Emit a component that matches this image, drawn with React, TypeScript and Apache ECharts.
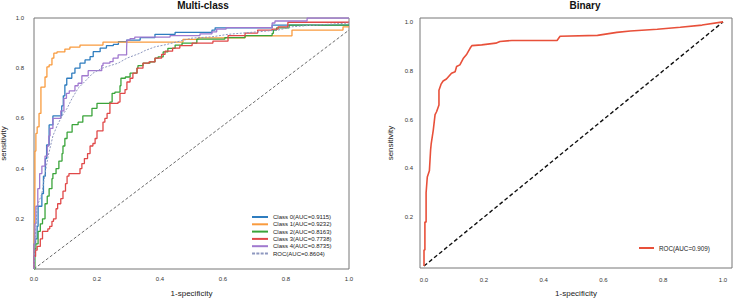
import React, { useEffect, useRef } from "react";
import * as echarts from "echarts";

type Pt = [number, number];

// Multi-class ROC curves, one per class (x = 1-specificity, y = sensitivity)
const class0Roc: Pt[] = [
  [0, 0], [0, 0.1], [0.005, 0.12], [0.01, 0.17], [0.013, 0.25], [0.025, 0.3], [0.03, 0.37],
  [0.036, 0.44], [0.04, 0.494], [0.048, 0.574], [0.06, 0.61], [0.088, 0.65], [0.093, 0.69],
  [0.098, 0.733], [0.104, 0.76], [0.12, 0.78], [0.13, 0.8], [0.146, 0.82], [0.162, 0.833],
  [0.178, 0.846], [0.188, 0.866], [0.21, 0.88], [0.23, 0.89], [0.252, 0.895], [0.268, 0.906],
  [0.294, 0.912], [0.337, 0.922], [0.384, 0.935], [0.448, 0.943], [0.565, 0.952],
  [0.575, 0.961], [0.756, 0.972], [1, 0.972],
];
const class1Roc: Pt[] = [
  [0, 0], [0, 0.08], [0.002, 0.2], [0.003, 0.35], [0.003, 0.47], [0.006, 0.54], [0.01, 0.566],
  [0.016, 0.62], [0.022, 0.67], [0.022, 0.725], [0.029, 0.725], [0.035, 0.765], [0.041, 0.805],
  [0.048, 0.813], [0.057, 0.84], [0.063, 0.86], [0.073, 0.865], [0.098, 0.876], [0.114, 0.884],
  [0.146, 0.892], [0.219, 0.904], [0.473, 0.915], [0.521, 0.921], [0.67, 0.929],
  [0.819, 0.952], [0.981, 0.965], [1, 0.965],
];
const class2Roc: Pt[] = [
  [0, 0], [0.003, 0.08], [0.006, 0.1], [0.013, 0.15], [0.02, 0.18], [0.027, 0.2], [0.035, 0.26],
  [0.042, 0.29], [0.048, 0.32], [0.057, 0.36], [0.06, 0.38], [0.07, 0.4], [0.079, 0.43],
  [0.089, 0.46], [0.092, 0.49], [0.098, 0.52], [0.105, 0.545], [0.121, 0.575], [0.14, 0.585],
  [0.155, 0.61], [0.184, 0.64], [0.2, 0.66], [0.241, 0.665], [0.248, 0.7], [0.257, 0.705],
  [0.273, 0.73], [0.276, 0.76], [0.29, 0.765], [0.305, 0.78], [0.327, 0.8], [0.33, 0.81],
  [0.346, 0.82], [0.368, 0.825], [0.384, 0.84], [0.394, 0.845], [0.41, 0.865], [0.425, 0.879],
  [0.448, 0.892], [0.47, 0.9], [0.517, 0.916], [0.606, 0.922], [0.67, 0.93], [0.756, 0.939],
  [0.76, 0.952], [0.77, 0.961], [0.81, 0.972], [1, 0.972],
];
const class3Roc: Pt[] = [
  [0, 0], [0, 0.05], [0.005, 0.075], [0.01, 0.09], [0.02, 0.12], [0.027, 0.15], [0.044, 0.16],
  [0.05, 0.17], [0.057, 0.19], [0.062, 0.2], [0.07, 0.24], [0.075, 0.26], [0.085, 0.28],
  [0.092, 0.31], [0.1, 0.34], [0.105, 0.37], [0.111, 0.38], [0.146, 0.4], [0.152, 0.42],
  [0.16, 0.44], [0.17, 0.46], [0.178, 0.49], [0.187, 0.5], [0.194, 0.52], [0.2, 0.55],
  [0.21, 0.55], [0.219, 0.585], [0.225, 0.6], [0.232, 0.62], [0.241, 0.66], [0.267, 0.665],
  [0.273, 0.7], [0.289, 0.715], [0.295, 0.745], [0.305, 0.76], [0.314, 0.78], [0.327, 0.8],
  [0.346, 0.82], [0.365, 0.825], [0.384, 0.84], [0.405, 0.855], [0.416, 0.868], [0.44, 0.88],
  [0.463, 0.89], [0.502, 0.9], [0.568, 0.908], [0.616, 0.93], [0.67, 0.94], [0.71, 0.952],
  [0.756, 0.956], [0.775, 0.965], [0.806, 0.983], [1, 0.983],
];
const class4Roc: Pt[] = [
  [0, 0], [0, 0.1], [0.003, 0.18], [0.006, 0.25], [0.012, 0.32], [0.018, 0.38], [0.025, 0.41],
  [0.035, 0.45], [0.042, 0.49], [0.047, 0.53], [0.051, 0.56], [0.06, 0.6], [0.072, 0.6],
  [0.085, 0.63], [0.095, 0.68], [0.103, 0.7], [0.112, 0.71], [0.13, 0.73], [0.14, 0.74],
  [0.152, 0.77], [0.172, 0.79], [0.215, 0.81], [0.219, 0.82], [0.241, 0.826], [0.251, 0.84],
  [0.267, 0.853], [0.294, 0.88], [0.295, 0.912], [0.305, 0.918], [0.32, 0.924], [0.432, 0.93],
  [0.527, 0.937], [0.565, 0.945], [0.58, 0.956], [0.61, 0.962], [0.756, 0.98], [0.765, 0.988],
  [0.867, 1.0], [1, 1.0],
];
// Averaged ROC over all classes
const averageRoc: Pt[] = [
  [0, 0], [0.003, 0.1], [0.01, 0.25], [0.025, 0.3], [0.035, 0.38], [0.045, 0.45], [0.06, 0.53],
  [0.073, 0.57], [0.089, 0.61], [0.105, 0.64], [0.121, 0.68], [0.14, 0.72], [0.156, 0.74],
  [0.187, 0.78], [0.216, 0.8], [0.241, 0.81], [0.267, 0.82], [0.295, 0.84], [0.337, 0.86],
  [0.352, 0.87], [0.384, 0.885], [0.416, 0.893], [0.457, 0.906], [0.502, 0.92], [0.565, 0.925],
  [0.616, 0.935], [0.775, 0.952], [0.819, 0.965], [0.87, 0.97], [0.987, 0.979], [1, 0.98],
];
const multiChanceLine: Pt[] = [[0, 0], [1, 0.952]];

// Binary ROC curve
const binaryRoc: Pt[] = [
  [0, 0], [0, 0.066], [0.003, 0.066], [0.003, 0.18], [0.007, 0.18], [0.007, 0.3], [0.011, 0.365],
  [0.018, 0.39], [0.022, 0.475], [0.024, 0.5], [0.031, 0.557], [0.037, 0.62], [0.042, 0.632],
  [0.05, 0.66], [0.05, 0.72], [0.057, 0.745], [0.064, 0.758], [0.075, 0.766], [0.092, 0.79],
  [0.104, 0.796], [0.109, 0.817], [0.12, 0.824], [0.131, 0.85], [0.143, 0.868], [0.154, 0.892],
  [0.16, 0.903], [0.193, 0.906], [0.24, 0.913], [0.254, 0.92], [0.294, 0.924], [0.445, 0.924],
  [0.455, 0.941], [0.58, 0.945], [0.645, 0.957], [0.69, 0.963], [0.78, 0.97], [0.857, 0.978],
  [0.93, 0.987], [1, 1],
];
const binaryChanceLine: Pt[] = [[0, 0], [1, 1]];

const classNames = [
  "Class 0(AUC=0.9115)",
  "Class 1(AUC=0.9232)",
  "Class 2(AUC=0.8163)",
  "Class 3(AUC=0.7738)",
  "Class 4(AUC=0.8735)",
];
const averageName = "ROC(AUC=0.8604)";
const binaryName = "ROC(AUC=0.909)";
const classColors = ["#2f7dbf", "#f99b3e", "#3aa43a", "#e04848", "#a079cf"];
const averageColor = "#8d97bf";
const binaryColor = "#e8503a";
const tickValues = [0, 0.2, 0.4, 0.6, 0.8, 1.0];
const yTickValues = [0.2, 0.4, 0.6, 0.8, 1.0];

const FONT = "'Liberation Sans', Arial, sans-serif";
// short dashed bar used as the legend key of the averaged curve
const DASH_ICON = "path://M0,0h3v2h-3zM4.3,0h3v2h-3zM8.6,0h3v2h-3zM12.9,0h3v2h-3z";

export default function App() {
  const ref = useRef<HTMLDivElement>(null);

  useEffect(() => {
    document.body.style.margin = "0";
    if (!ref.current) return;
    const chart = echarts.init(ref.current, undefined, { renderer: "svg" });

    const labelFmt = (v: number) => v.toFixed(1);
    const axisName = { fontSize: 8, color: "#222", fontFamily: FONT };

    const classSeries = [class0Roc, class1Roc, class2Roc, class3Roc, class4Roc].map((d, i) => ({
      type: "line",
      name: classNames[i],
      xAxisIndex: 0,
      yAxisIndex: 0,
      data: d,
      step: "end",
      symbol: "none",
      lineStyle: { color: classColors[i], width: 1.3 },
      itemStyle: { color: classColors[i] },
      z: 3,
    }));

    chart.setOption({
      animation: false,
      backgroundColor: "#ffffff",
      textStyle: { fontFamily: FONT },
      title: [
        {
          text: "Multi-class",
          left: 203,
          top: 0,
          padding: 0,
          textAlign: "center",
          textStyle: { fontSize: 10, fontWeight: "bold", color: "#111", fontFamily: FONT },
        },
        {
          text: "Binary",
          left: 585,
          top: 0,
          padding: 0,
          textAlign: "center",
          textStyle: { fontSize: 10, fontWeight: "bold", color: "#111", fontFamily: FONT },
        },
      ],
      grid: [
        {
          left: 34, top: 18, width: 315, height: 251,
          show: true, borderColor: "#777", borderWidth: 1,
          containLabel: false, outerBoundsMode: "none",
        },
        {
          left: 420, top: 18, width: 312, height: 250,
          show: true, borderColor: "#777", borderWidth: 1,
          containLabel: false, outerBoundsMode: "none",
        },
      ],
      xAxis: [
        {
          type: "value",
          gridIndex: 0,
          min: 0,
          max: 1,
          interval: 0.2,
          name: "1-specificity",
          nameLocation: "middle",
          nameGap: 20,
          nameTextStyle: axisName,
          axisLine: { show: false },
          axisTick: { show: false },
          splitLine: { show: false },
          axisLabel: { fontSize: 6, color: "#333", margin: 7, formatter: labelFmt, fontFamily: FONT },
        },
        {
          type: "value",
          gridIndex: 1,
          min: -0.0134,
          max: 1.03,
          name: "1-specificity",
          nameLocation: "middle",
          nameGap: 21,
          nameTextStyle: axisName,
          axisLine: { show: false },
          axisTick: { show: false },
          splitLine: { show: false },
          axisLabel: {
            fontSize: 6,
            color: "#333",
            margin: 9,
            customValues: tickValues,
            formatter: labelFmt,
            fontFamily: FONT,
          },
        },
      ],
      yAxis: [
        {
          type: "value",
          gridIndex: 0,
          min: 0,
          max: 1,
          interval: 0.2,
          name: "sensitivity",
          nameLocation: "middle",
          nameGap: 27,
          nameTextStyle: axisName,
          axisLine: { show: false },
          axisTick: { show: false },
          splitLine: { show: false },
          axisLabel: {
            fontSize: 6,
            color: "#333",
            margin: 10,
            formatter: (v: number) => (v === 0 ? "" : v.toFixed(1)),
            fontFamily: FONT,
          },
        },
        {
          type: "value",
          gridIndex: 1,
          min: -0.008,
          max: 1.016,
          name: "sensitivity",
          nameLocation: "middle",
          nameGap: 26,
          nameTextStyle: axisName,
          axisLine: { show: false },
          axisTick: { show: false },
          splitLine: { show: false },
          axisLabel: {
            fontSize: 6,
            color: "#333",
            margin: 7,
            customValues: yTickValues,
            formatter: labelFmt,
            fontFamily: FONT,
          },
        },
      ],
      legend: [
        {
          orient: "vertical",
          left: 252,
          top: 213.5,
          itemWidth: 16,
          itemHeight: 2,
          itemGap: 0.3,
          padding: 0,
          icon: "rect",
          data: [...classNames.map((name) => ({ name })), { name: averageName, icon: DASH_ICON }],
          textStyle: { fontSize: 6, lineHeight: 7, color: "#222", fontFamily: FONT },
        },
        {
          orient: "vertical",
          left: 639,
          top: 244.5,
          itemWidth: 15,
          itemHeight: 2,
          padding: 0,
          icon: "rect",
          data: [binaryName],
          textStyle: { fontSize: 6.3, lineHeight: 7, color: "#222", fontFamily: FONT },
        },
      ],
      series: [
        {
          type: "line",
          name: "chance-multi",
          xAxisIndex: 0,
          yAxisIndex: 0,
          data: multiChanceLine,
          symbol: "none",
          lineStyle: { color: "#444", width: 0.8, type: [3, 2] },
          z: 2,
        },
        ...classSeries,
        {
          type: "line",
          name: averageName,
          xAxisIndex: 0,
          yAxisIndex: 0,
          data: averageRoc,
          symbol: "none",
          lineStyle: { color: averageColor, width: 1, type: [2, 1.5] },
          itemStyle: { color: averageColor },
          z: 4,
        },
        {
          type: "line",
          name: "chance-binary",
          xAxisIndex: 1,
          yAxisIndex: 1,
          data: binaryChanceLine,
          symbol: "none",
          lineStyle: { color: "#111", width: 1.4, type: [4, 2.5] },
          z: 2,
        },
        {
          type: "line",
          name: binaryName,
          xAxisIndex: 1,
          yAxisIndex: 1,
          data: binaryRoc,
          symbol: "none",
          lineStyle: { color: binaryColor, width: 1.6 },
          itemStyle: { color: binaryColor },
          z: 3,
        },
      ],
    });

    return () => chart.dispose();
  }, []);

  return <div ref={ref} style={{ width: 738, height: 298 }} />;
}
